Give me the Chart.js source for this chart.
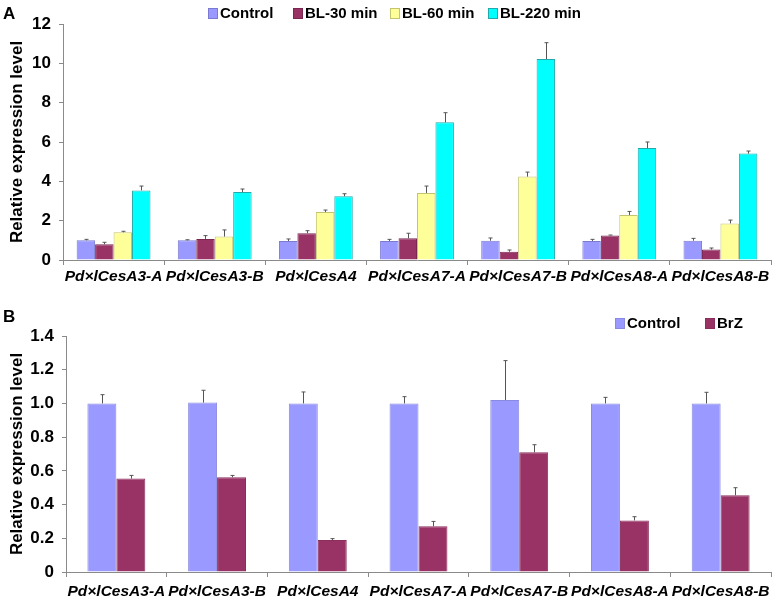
<!DOCTYPE html>
<html>
<head>
<meta charset="utf-8">
<script src="https://cdn.jsdelivr.net/npm/chart.js@4.4.0/dist/chart.umd.min.js"></script>
<style>
  html, body { margin: 0; padding: 0; background: #fff; }
  .panel { position: absolute; left: 0; width: 777px; }
  #panelA { top: 0; height: 300px; }
  #panelB { top: 300px; height: 301px; }
</style>
</head>
<body>
<div class="panel" id="panelA"><canvas id="chartA"></canvas></div>
<div class="panel" id="panelB"><canvas id="chartB"></canvas></div>
<script>
const genes = [
  "Pd×lCesA3-A", "Pd×lCesA3-B", "Pd×lCesA4", "Pd×lCesA7-A",
  "Pd×lCesA7-B", "Pd×lCesA8-A", "Pd×lCesA8-B"
];

// panel A
const controlA = [1.0, 1.0, 0.97, 0.97, 0.98, 0.97, 0.98];
const controlAErr = [0.05, 0.03, 0.1, 0.08, 0.14, 0.08, 0.12];
const bl30 = [0.8, 1.07, 1.36, 1.1, 0.42, 1.25, 0.53];
const bl30Err = [0.1, 0.17, 0.13, 0.26, 0.09, 0.02, 0.08];
const bl60 = [1.41, 1.19, 2.44, 3.41, 4.24, 2.29, 1.86];
const bl60Err = [0.05, 0.34, 0.1, 0.35, 0.23, 0.18, 0.17];
const bl220 = [3.54, 3.46, 3.24, 7.0, 10.22, 5.69, 5.41];
const bl220Err = [0.22, 0.15, 0.13, 0.49, 0.83, 0.31, 0.13];
const ticksA = [0, 2, 4, 6, 8, 10, 12];

// panel B
const controlB = [1.0, 1.005, 1.0, 1.0, 1.02, 1.0, 1.0];
const controlBErr = [0.052, 0.073, 0.068, 0.04, 0.234, 0.036, 0.066];
const brz = [0.554, 0.562, 0.19, 0.271, 0.71, 0.306, 0.455];
const brzErr = [0.019, 0.011, 0.008, 0.029, 0.045, 0.022, 0.045];
const ticksB = [0, 0.2, 0.4, 0.6, 0.8, 1.0, 1.2, 1.4];

const FONT = "'Liberation Sans', Arial, sans-serif";
const AXIS = "#8a8a8a";

// upward-only error bars with a small cap
const errorBars = {
  id: "errorBars",
  afterDatasetsDraw(chart) {
    const ctx = chart.ctx;
    const y = chart.scales.y;
    ctx.save();
    ctx.strokeStyle = "#555";
    ctx.lineWidth = 1;
    chart.data.datasets.forEach((ds, i) => {
      const meta = chart.getDatasetMeta(i);
      meta.data.forEach((bar, j) => {
        const top = y.getPixelForValue(ds.data[j] + ds.errors[j]);
        const x = Math.round(bar.x) + 0.5;
        ctx.beginPath();
        ctx.moveTo(x, bar.y);
        ctx.lineTo(x, top);
        ctx.moveTo(x - 2, top);
        ctx.lineTo(x + 2, top);
        ctx.stroke();
      });
    });
    ctx.restore();
  }
};

// hand-placed legend row + panel letter
const panelDecor = {
  id: "panelDecor",
  afterDraw(chart, args, opts) {
    const ctx = chart.ctx;
    ctx.save();
    ctx.font = "bold 17px " + FONT;
    ctx.fillStyle = "#000";
    ctx.textBaseline = "middle";
    ctx.fillText(opts.letter, 3, opts.letterY);

    ctx.font = "bold 15px " + FONT;
    const cy = opts.legendY;
    chart.data.datasets.forEach((ds, i) => {
      const x = opts.legendX[i];
      ctx.fillStyle = ds.backgroundColor;
      ctx.fillRect(x, cy - 5, 10, 11);
      ctx.strokeStyle = ds.borderColor;
      ctx.lineWidth = 1;
      ctx.strokeRect(x + 0.5, cy - 4.5, 9, 10);
      ctx.fillStyle = "#000";
      ctx.fillText(ds.label, x + 12, cy + 1);
    });
    ctx.restore();
  }
};

function makeChart(id, datasets, cfg) {
  return new Chart(document.getElementById(id), {
    type: "bar",
    data: { labels: genes, datasets },
    options: {
      responsive: true,
      maintainAspectRatio: false,
      animation: false,
      layout: { padding: { left: 0, right: 6, top: cfg.top, bottom: 0 } },
      plugins: {
        legend: { display: false },
        tooltip: { enabled: false },
        panelDecor: cfg.decor
      },
      datasets: {
        bar: {
          categoryPercentage: cfg.catPct,
          barPercentage: 1.0,
          borderWidth: 1
        }
      },
      scales: {
        x: {
          grid: {
            offset: true,
            drawOnChartArea: false,
            drawTicks: true,
            tickLength: 5,
            color: AXIS
          },
          border: { display: true, color: AXIS },
          ticks: {
            color: "#000",
            padding: cfg.xPad,
            maxRotation: 0,
            autoSkip: false,
            font: { family: FONT, size: 15.5, weight: "bold", style: "italic" }
          },
          afterFit(scale) { scale.height = cfg.xHeight; }
        },
        y: {
          min: 0,
          max: cfg.ticks[cfg.ticks.length - 1],
          afterBuildTicks(scale) {
            scale.ticks = cfg.ticks.map((v) => ({ value: v }));
          },
          grid: {
            drawOnChartArea: false,
            drawTicks: true,
            tickLength: 4,
            color: AXIS
          },
          border: { display: true, color: AXIS },
          ticks: {
            color: "#000",
            padding: 8,
            font: { family: FONT, size: 17, weight: "bold" },
            callback: cfg.fmt
          },
          title: {
            display: true,
            text: "Relative expression level",
            color: "#000",
            padding: { top: 7, bottom: 0 },
            font: { family: FONT, size: 17, weight: "bold" }
          },
          afterFit(scale) { scale.width = cfg.yWidth; }
        }
      }
    },
    plugins: [errorBars, panelDecor]
  });
}

makeChart("chartA", [
  { label: "Control", data: controlA, errors: controlAErr, backgroundColor: "#9999ff", borderColor: "#7a7ad0" },
  { label: "BL-30 min", data: bl30, errors: bl30Err, backgroundColor: "#993366", borderColor: "#7a2850" },
  { label: "BL-60 min", data: bl60, errors: bl60Err, backgroundColor: "#ffff99", borderColor: "#c4c470" },
  { label: "BL-220 min", data: bl220, errors: bl220Err, backgroundColor: "#00ffff", borderColor: "#22aaaa" }
], {
  top: 24, catPct: 0.73, xPad: 2, xHeight: 40, yWidth: 63, ticks: ticksA,
  fmt: (v) => String(v),
  decor: { letter: "A", letterY: 14, legendX: [208, 293, 390, 488], legendY: 13 }
});

makeChart("chartB", [
  { label: "Control", data: controlB, errors: controlBErr, backgroundColor: "#9999ff", borderColor: "#8a8ae0" },
  { label: "BrZ", data: brz, errors: brzErr, backgroundColor: "#993366", borderColor: "#8a2e5c" }
], {
  top: 36, catPct: 0.575, xPad: 5, xHeight: 29, yWidth: 66, ticks: ticksB,
  fmt: (v) => (v === 0 ? "0" : v.toFixed(1)),
  decor: { letter: "B", letterY: 17, legendX: [615, 705], legendY: 23 }
});
</script>
</body>
</html>
